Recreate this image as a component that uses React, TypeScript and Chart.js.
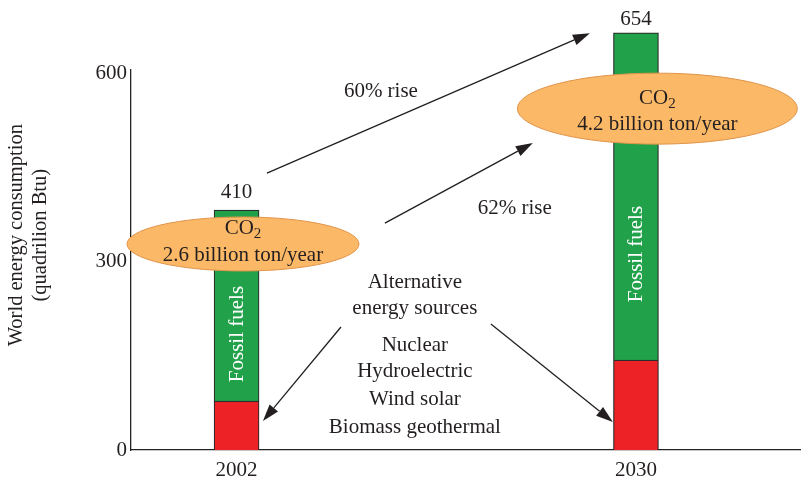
import React, { useEffect, useRef } from 'react';
import { Chart, registerables } from 'chart.js';
Chart.register(...registerables);

// ---- data ----
const years = [2002, 2030];
const alternative = [78, 143];
const fossil = [304, 521];
const totalLabels = ['410', '654'];
const yTicks = [0, 300, 600];
const co2Labels = ['2.6 billion ton/year', '4.2 billion ton/year'];
const riseLabels = ['60% rise', '62% rise'];
const altLines = ['Alternative', 'energy sources', 'Nuclear', 'Hydroelectric', 'Wind solar', 'Biomass geothermal'];
const yTitle = ['World energy consumption', '(quadrilion Btu)'];

// ---- annotation anchors (data coordinates: year, value) ----
const totalLabelY = [410, 686];
const ellipseAnchors = [
  { x: 2002.45, y: 328, rx: 116, ry: 27, y1: 353, y2: 310 },
  { x: 2031.5, y: 543.5, rx: 140, ry: 35.5, y1: 560, y2: 519 },
];
const arrowAnchors = [
  [2004.13, 440.9, 2026.77, 663.7],
  [2012.4, 361.3, 2022.77, 488.6],
  [2009.32, 195.8, 2003.85, 46.2],
  [2019.83, 200.5, 2028.38, 44.6],
];
const riseAnchors = [
  [2012.12, 571.4],
  [2021.5, 385.2],
];
const altX = 2014.5;
const altY = [267.4, 226, 167, 125.7, 81.2, 36.6];
const fossilTextY = [184.6, 312];

const FONT = '"Liberation Serif", "Times New Roman", serif';
const TEXT = '#231f20';
const FS = 21;

function drawArrow(ctx: CanvasRenderingContext2D, x1: number, y1: number, x2: number, y2: number) {
  const ang = Math.atan2(y2 - y1, x2 - x1);
  const hl = 17, hw = 5.5;
  const bx = x2 - hl * Math.cos(ang), by = y2 - hl * Math.sin(ang);
  ctx.save();
  ctx.strokeStyle = TEXT;
  ctx.fillStyle = TEXT;
  ctx.lineWidth = 1.3;
  ctx.beginPath();
  ctx.moveTo(x1, y1);
  ctx.lineTo(bx, by);
  ctx.stroke();
  ctx.beginPath();
  ctx.moveTo(x2, y2);
  ctx.lineTo(bx + hw * Math.sin(ang), by - hw * Math.cos(ang));
  ctx.lineTo(bx - hw * Math.sin(ang), by + hw * Math.cos(ang));
  ctx.closePath();
  ctx.fill();
  ctx.restore();
}

const annotations = {
  id: 'annotations',
  afterDatasetsDraw(chart: any) {
    const { ctx, chartArea } = chart;
    const xs = chart.scales.x, ys = chart.scales.y;
    const px = (v: number) => xs.getPixelForValue(v);
    const py = (v: number) => ys.getPixelForValue(v);
    ctx.save();
    ctx.textAlign = 'center';
    ctx.textBaseline = 'middle';
    ctx.font = `${FS}px ${FONT}`;
    ctx.fillStyle = TEXT;

    // total labels
    years.forEach((yr, i) => ctx.fillText(totalLabels[i], px(yr), py(totalLabelY[i])));

    // fossil fuels vertical labels
    years.forEach((yr, i) => {
      ctx.save();
      ctx.translate(px(yr), py(fossilTextY[i]));
      ctx.rotate(-Math.PI / 2);
      ctx.fillStyle = '#ffffff';
      ctx.fillText('Fossil fuels', 0, 1);
      ctx.restore();
    });

    // ellipses
    ellipseAnchors.forEach((e, i) => {
      const cx = px(e.x), cy = py(e.y);
      ctx.beginPath();
      ctx.ellipse(cx, cy, e.rx, e.ry, 0, 0, Math.PI * 2);
      ctx.fillStyle = '#fbb866';
      ctx.fill();
      ctx.strokeStyle = '#e0944c';
      ctx.lineWidth = 1;
      ctx.stroke();
      ctx.fillStyle = TEXT;
      ctx.font = `${FS}px ${FONT}`;
      const wCO = ctx.measureText('CO').width;
      ctx.font = `15px ${FONT}`;
      const w2 = ctx.measureText('2').width;
      const start = cx - (wCO + w2) / 2;
      const ly = py(e.y1);
      ctx.textAlign = 'left';
      ctx.font = `${FS}px ${FONT}`;
      ctx.fillText('CO', start, ly);
      ctx.font = `15px ${FONT}`;
      ctx.fillText('2', start + wCO, ly + 6);
      ctx.textAlign = 'center';
      ctx.font = `${FS}px ${FONT}`;
      ctx.fillText(co2Labels[i], cx, py(e.y2));
    });

    // arrows
    arrowAnchors.forEach((a) => drawArrow(ctx, px(a[0]), py(a[1]), px(a[2]), py(a[3])));

    // rise labels
    ctx.fillStyle = TEXT;
    ctx.font = `${FS}px ${FONT}`;
    riseAnchors.forEach((r, i) => ctx.fillText(riseLabels[i], px(r[0]), py(r[1])));

    // alternative energy text
    altLines.forEach((t, i) => ctx.fillText(t, px(altX), py(altY[i])));

    // y axis title
    ctx.font = `20.5px ${FONT}`;
    const tcy = py(342);
    ctx.save();
    ctx.translate(chartArea.left - 114, tcy);
    ctx.rotate(-Math.PI / 2);
    ctx.fillText(yTitle[0], 0, 0);
    ctx.fillText(yTitle[1], 0, 24);
    ctx.restore();

    ctx.restore();
  },
};

export default function App() {
  const ref = useRef<HTMLCanvasElement>(null);
  useEffect(() => {
    if (!ref.current) return;
    Chart.defaults.font.family = FONT;
    Chart.defaults.font.size = FS;
    Chart.defaults.color = TEXT;
    const chart = new Chart(ref.current, {
      type: 'bar',
      data: {
        datasets: [
          {
            label: 'Alternative',
            data: years.map((y, i) => ({ x: y, y: alternative[i] })),
            backgroundColor: '#ec2227',
            borderColor: '#2b2b2b',
            borderWidth: 1.2,
            barThickness: 45,
            clip: false,
          } as any,
          {
            label: 'Fossil fuels',
            data: years.map((y, i) => ({ x: y, y: fossil[i] })),
            backgroundColor: '#21a149',
            borderColor: '#2b2b2b',
            borderWidth: 1.2,
            barThickness: 45,
            clip: false,
          } as any,
        ],
      },
      options: {
        responsive: false,
        animation: false,
        devicePixelRatio: 1,
        layout: { padding: { top: 70, left: 0, right: 1, bottom: 0 } },
        plugins: { legend: { display: false }, tooltip: { enabled: false } },
        scales: {
          x: {
            type: 'linear',
            stacked: true,
            offset: false,
            min: 1994.6,
            max: 2041.5,
            grid: { display: false, drawTicks: false, offset: false },
            border: { display: true, color: '#222', width: 1.3 },
            ticks: { padding: 8, color: TEXT, callback: (v: any) => String(v) },
            afterBuildTicks: (s: any) => { s.ticks = years.map((v) => ({ value: v })); },
            afterFit: (s: any) => { s.height = 30; },
          },
          y: {
            type: 'linear',
            stacked: true,
            min: 0,
            max: 605,
            grid: { display: false, drawTicks: false },
            border: { display: true, color: '#222', width: 1.3 },
            ticks: { padding: 4, color: TEXT, callback: (v: any) => String(v) },
            afterBuildTicks: (s: any) => { s.ticks = yTicks.map((v) => ({ value: v })); },
            afterFit: (s: any) => { s.width = 131; },
          },
        },
      } as any,
      plugins: [annotations],
    });
    return () => chart.destroy();
  }, []);
  return (
    <div style={{ position: 'absolute', left: 0, top: 0, width: 801, height: 480, background: '#fff' }}>
      <canvas ref={ref} width={801} height={480} />
    </div>
  );
}
